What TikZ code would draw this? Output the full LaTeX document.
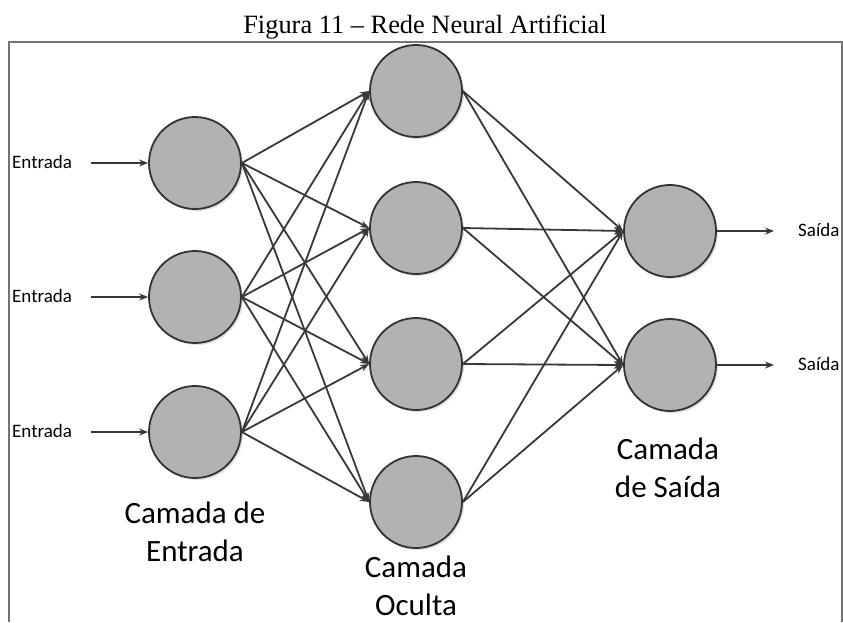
\documentclass[tikz,border=0pt]{standalone}
\usepackage{fontspec}
\setmainfont{Carlito}
\newfontfamily\titlefont{Liberation Serif}
\usetikzlibrary{arrows.meta,shadows}

\begin{document}
\begin{tikzpicture}[x=1pt,y=-1pt,
    neuron/.style={circle,draw=black!80,line width=1.8pt,fill=black!30,
      minimum size=92pt,inner sep=0pt,
      drop shadow={shadow xshift=2pt,shadow yshift=-2pt,opacity=0.25}},
    link/.style={draw=black!78,line width=1.8pt,-{Stealth[length=9pt,width=7pt]}},
    rotulo/.style={font=\fontsize{19}{23}\selectfont,anchor=base west,inner sep=0pt},
    camada/.style={font=\fontsize{31}{38}\selectfont,align=center,anchor=base}]
  \useasboundingbox (0,0) rectangle (843,622);
  \node[anchor=base,font=\titlefont\fontsize{26.4}{30}\selectfont] (titulo) at (425,33)
    {Figura 11 – Rede Neural Artificial};
  \draw[black!55,line width=1.5pt] (9,622) -- (9,42) -- (842,42) -- (842,622);
  % camada de entrada
  \node[neuron] (e1) at (195,163) {};
  \node[neuron] (e2) at (195,297) {};
  \node[neuron] (e3) at (195,432) {};
  % camada oculta
  \node[neuron] (o1) at (416,91) {};
  \node[neuron] (o2) at (416,228) {};
  \node[neuron] (o3) at (416,364) {};
  \node[neuron] (o4) at (416,502) {};
  % camada de saida
  \node[neuron] (s1) at (670,231) {};
  \node[neuron] (s2) at (670,365) {};
  % entradas e saidas
  \foreach \i/\y in {1/163,2/297,3/432} {
    \node[rotulo] (te\i) at (12,\y+5) {Entrada};
    \coordinate (ie\i) at (91,\y);
    \draw[link] (ie\i) -- (e\i);
  }
  \foreach \k/\y in {1/231,2/365} {
    \coordinate (fs\k) at (774,\y);
    \draw[link] (s\k) -- (fs\k);
    \node[rotulo] (ts\k) at (798,\y+5) {Saída};
  }
  % ligacoes
  \foreach \i in {1,2,3} \foreach \j in {1,...,4} \draw[link] (e\i.east) -- (o\j.west);
  \foreach \j in {1,...,4} \foreach \k in {1,2} \draw[link] (o\j.east) -- (s\k.west);
  % rotulos das camadas
  \node[camada] (ce) at (195,561) {Camada de\\Entrada};
  \node[camada] (co) at (416,615) {Camada\\Oculta};
  \node[camada] (cs) at (668,497) {Camada\\de Saída};
\end{tikzpicture}
\end{document}
